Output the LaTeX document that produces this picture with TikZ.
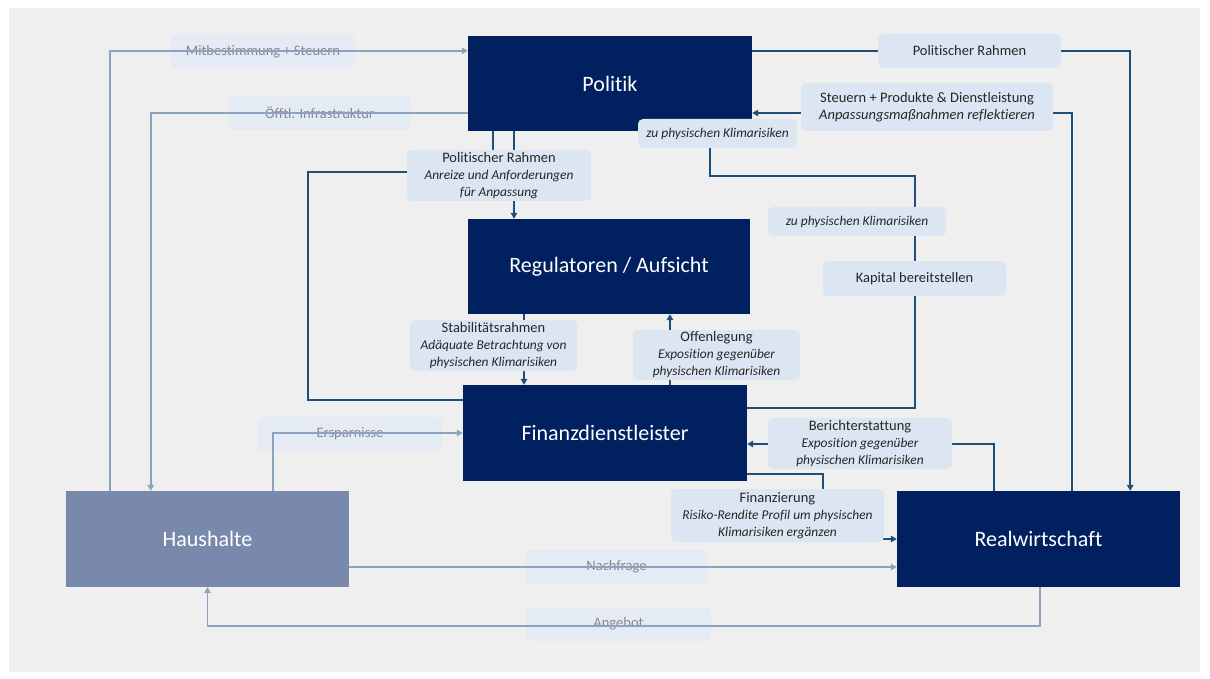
\documentclass[tikz,border=0pt]{standalone}
\usepackage{fontspec}
\setmainfont{Carlito}[Ligatures=CommonOff]
\usetikzlibrary{arrows.meta}
\definecolor{navy}{HTML}{002060}
\definecolor{hhfill}{HTML}{7889AC}
\definecolor{dline}{HTML}{1F4E79}
\definecolor{gline}{HTML}{8DA2BE}
\definecolor{labfill}{HTML}{DCE6F2}
\definecolor{glabfill}{HTML}{E4EBF4}
\definecolor{gtext}{HTML}{888888}
\definecolor{bgc}{HTML}{EFEFEF}
\newcommand{\itl}[1]{{\fontsize{13.4}{16.5}\selectfont\itshape #1}}
\begin{document}
\begin{tikzpicture}[x=1pt,y=-1pt,
  mainbox/.style={fill=navy,text=white,inner sep=0pt,minimum width=284pt,minimum height=95pt,font=\fontsize{22}{26}\selectfont},
  lab/.style={fill=labfill,rounded corners=5pt,inner sep=0pt,align=center,text=black!85,font=\fontsize{14.5}{17}\selectfont},
  glab/.style={fill=glabfill,rounded corners=5pt,inner sep=0pt,align=center,text=gtext,font=\fontsize{14.5}{17}\selectfont},
  dcon/.style={draw=dline,line width=1.6pt},
  gcon/.style={draw=gline,line width=1.6pt},
  tip/.style={-{Triangle[length=6pt,width=6.5pt]}}
]
\useasboundingbox (0,0) rectangle (1210,679);
\fill[white] (0,0) rectangle (1210,679);
\fill[bgc] (9,8) rectangle (1200,672);

% main boxes
\node[mainbox] (pol) at (610,83.5) {Politik};
\node[mainbox,minimum width=282pt] (reg) at (609,266.5) {Regulatoren / Aufsicht};
\node[mainbox,minimum height=96pt] (fin) at (605,433) {Finanzdienstleister};
\node[mainbox,fill=hhfill,minimum width=283pt,minimum height=96pt] (hh) at (207.5,539) {Haushalte};
\node[mainbox,minimum width=283pt,minimum height=96pt] (re) at (1038.5,539) {Realwirtschaft};

% grey labels (under grey lines)
\node[glab,minimum width=184pt,minimum height=33pt] (lmit) at (263,51.5) {Mitbestimmung + Steuern};
\node[glab,minimum width=183pt,minimum height=34pt] (loef) at (319.5,113) {Öfftl. Infrastruktur};
\node[glab,minimum width=184pt,minimum height=34pt] (lers) at (350,434) {Ersparnisse};
\node[glab,minimum width=183pt,minimum height=34pt] (lnach) at (616.5,567) {Nachfrage};
\node[glab,minimum width=185pt,minimum height=34pt] (lang) at (618.5,624) {Angebot};

% grey connectors
\draw[gcon,tip] ([xshift=44pt]hh.north west) |- ([yshift=-15pt]pol.north west);
\draw[gcon,tip] ([yshift=-29.5pt]pol.west) -| ([xshift=85pt]hh.north west);
\draw[gcon,tip] ([xshift=207pt]hh.north west) |- (fin.west);
\draw[gcon,tip] ([yshift=-28pt]hh.east) -- ([yshift=-28pt]re.west);
\draw[gcon,tip] ([xshift=1.5pt]re.south) -- ++(0,39) -| (hh.south);

% dark connectors
\draw[dcon,tip] ([yshift=-15pt]pol.north east) -| ([xshift=-50pt]re.north east);
\draw[dcon,tip] ([xshift=33.5pt]re.north) |- ([yshift=-29.5pt]pol.east);
\draw[dcon] ([yshift=25pt]fin.east) -| (915,176) -| ([xshift=100pt]pol.south);
\draw[dcon] ([xshift=-117pt]pol.south) -- (493,172) -| (308,400) -- ([yshift=33pt]fin.west);
\draw[dcon,tip] ([xshift=-96pt]pol.south) -- ([xshift=-95pt]reg.north);
\draw[dcon,tip] ([xshift=-85pt]reg.south) -- ([xshift=-81pt]fin.north);
\draw[dcon,tip] ([xshift=65pt]fin.north) -- ([xshift=61pt]reg.south);
\draw[dcon,tip] ([xshift=-44.5pt]re.north) |- ([yshift=-11pt]fin.east);
\draw[dcon,tip] ([yshift=-41pt]fin.east) -| (823,539) -- (re.west);

% dark labels
\node[lab,minimum width=183pt,minimum height=34pt] (lpr1) at (969.5,51) {Politischer Rahmen};
\node[lab,minimum width=252pt,minimum height=48pt] (lst) at (927,107) {Steuern + Produkte \& Dienstleistung\\\itshape Anpassungsmaßnahmen reflektieren};
\node[lab,minimum width=159pt,minimum height=29pt] (lzp1) at (717.5,133.5) {\itl{zu physischen Klimarisiken}};
\node[lab,minimum width=184pt,minimum height=51pt] (lpr2) at (499,175.5) {Politischer Rahmen\\\itl{Anreize und Anforderungen}\\\itl{für Anpassung}};
\node[lab,minimum width=178pt,minimum height=29pt] (lzp2) at (857,221.5) {\itl{zu physischen Klimarisiken}};
\node[lab,minimum width=183pt,minimum height=35pt] (lkap) at (914.5,278.5) {Kapital bereitstellen};
\node[lab,minimum width=167pt,minimum height=51pt] (lstab) at (493.5,345.5) {Stabilitätsrahmen\\\itl{Adäquate Betrachtung von}\\\itl{physischen Klimarisiken}};
\node[lab,minimum width=167pt,minimum height=50pt] (loff) at (716.5,355) {Offenlegung\\\itl{Exposition gegenüber}\\\itl{physischen Klimarisiken}};
\node[lab,minimum width=184pt,minimum height=51pt] (lber) at (860,443.5) {Berichterstattung\\\itl{Exposition gegenüber}\\\itl{physischen Klimarisiken}};
\node[lab,minimum width=213pt,minimum height=53pt] (lfin) at (777.5,515.5) {Finanzierung\\\itl{Risiko-Rendite Profil um physischen}\\\itl{Klimarisiken ergänzen}};
\end{tikzpicture}
\end{document}
